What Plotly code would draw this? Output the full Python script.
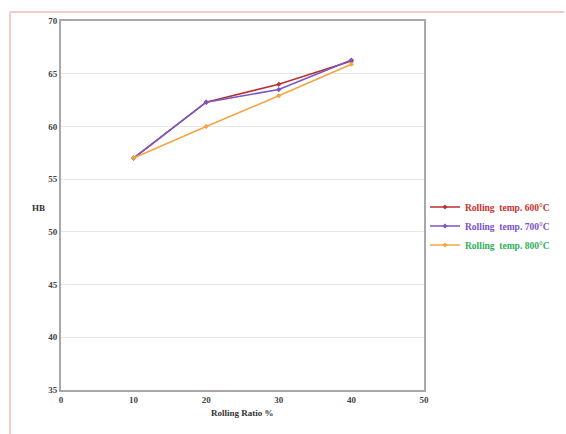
import plotly.graph_objects as go

rolling_ratio = [10, 20, 30, 40]
hb_600 = [57.0, 62.3, 64.0, 66.2]
hb_700 = [57.0, 62.3, 63.5, 66.3]
hb_800 = [57.0, 60.0, 62.9, 65.9]

series_names = ["Rolling  temp. 600°C", "Rolling  temp. 700°C", "Rolling  temp. 800°C"]
line_colors = ["#b8322f", "#7a56c4", "#f5a445"]
text_colors = ["#c8302c", "#7a52c8", "#2eb05a"]

x_ticks = [0, 10, 20, 30, 40, 50]
y_ticks = [35, 40, 45, 50, 55, 60, 65, 70]

fig = go.Figure()
for vals, name, lc, tc in zip([hb_600, hb_700, hb_800], series_names, line_colors, text_colors):
    fig.add_trace(go.Scatter(
        x=rolling_ratio, y=vals, mode="lines+markers",
        name=f"<span style='color:{tc}'><b>{name}</b></span>",
        line=dict(color=lc, width=1.6),
        marker=dict(color=lc, size=4, symbol="diamond"),
    ))

L, R, T, B = 61, 141, 21, 44
W, H = 566, 434
pw, ph = W - L - R, H - T - B

fig.update_layout(
    width=W, height=H,
    margin=dict(l=L, r=R, t=T, b=B),
    paper_bgcolor="white", plot_bgcolor="white",
    font=dict(family="Liberation Serif", size=9, color="#333333"),
    showlegend=True,
    legend=dict(x=1.0, y=(390 - 226) / ph, xanchor="left", yanchor="middle",
                font=dict(family="Liberation Serif", size=9.5),
                bgcolor="rgba(0,0,0,0)", tracegroupgap=0, itemwidth=30,
                borderwidth=0),
    xaxis=dict(range=[0, 50], tickvals=x_ticks, ticktext=[f"<b>{v}</b>" for v in x_ticks],
               showgrid=False, zeroline=False, showline=True, linecolor="#a8a8a8",
               linewidth=2, mirror=True, ticks="", tickfont=dict(size=9, color="#444")),
    yaxis=dict(range=[35, 70], tickvals=y_ticks, ticktext=[f"<b>{v}</b>" for v in y_ticks],
               showgrid=True, gridcolor="#e6e6e6", gridwidth=1, zeroline=False,
               showline=True, linecolor="#a8a8a8", linewidth=2, mirror=True, ticks="",
               tickfont=dict(size=9, color="#444")),
    annotations=[
        dict(text="<b>HB</b>", xref="paper", yref="paper",
             x=(30 - L) / pw, y=(390 - 208) / ph, showarrow=False,
             font=dict(size=9, color="#333")),
        dict(text="<b>Rolling Ratio %</b>", xref="paper", yref="paper",
             x=(243 - L) / pw, y=(390 - 420) / ph, showarrow=False,
             font=dict(size=9, color="#333")),
    ],
    shapes=[
        dict(type="line", xref="paper", yref="paper",
             x0=(10 - L) / pw, x1=(566 - L) / pw, y0=1 + (T - 12) / ph, y1=1 + (T - 12) / ph,
             line=dict(color="#f2cccc", width=2)),
        dict(type="line", xref="paper", yref="paper",
             x0=(10 - L) / pw, x1=(10 - L) / pw, y0=1 + (T - 12) / ph, y1=(390 - 434) / ph,
             line=dict(color="#f2cccc", width=2)),
    ],
)

fig.write_html("out.html")
